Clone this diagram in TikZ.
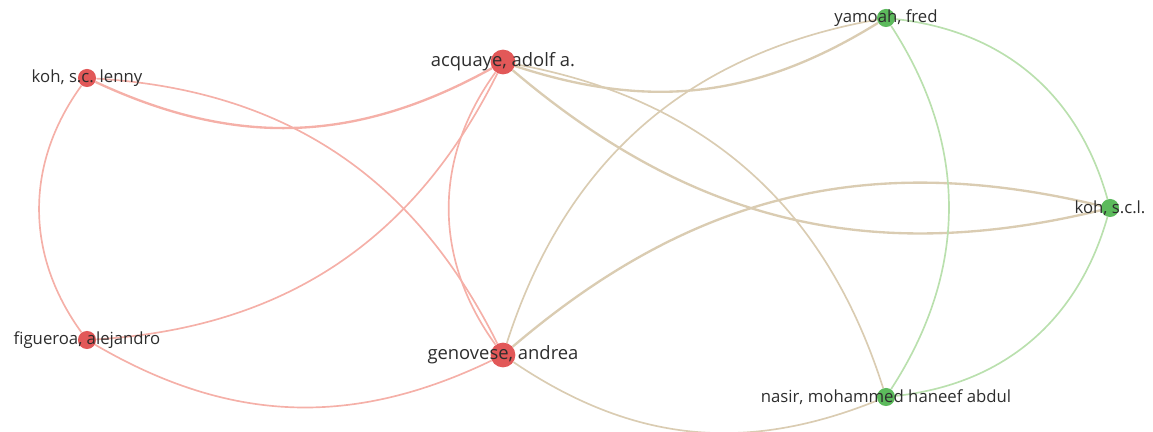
\documentclass[tikz,border=0pt]{standalone}
\usepackage{fontspec}
\setmainfont{Open Sans}
\usetikzlibrary{backgrounds}
\definecolor{vosred}{RGB}{226,88,88}
\definecolor{vosgreen}{RGB}{92,186,92}
\definecolor{linkred}{RGB}{245,176,168}
\definecolor{linkgreen}{RGB}{186,224,174}
\definecolor{linkmix}{RGB}{218,204,178}
\definecolor{lbltext}{RGB}{45,45,45}

\begin{document}
\begin{tikzpicture}[x=0.21mm,y=-0.21mm,
    author/.style={circle,inner sep=0pt,minimum size=3.8mm},
    bigauthor/.style={author,minimum size=5.2mm},
    redauthor/.style={fill=vosred},
    greenauthor/.style={fill=vosgreen},
    lbl/.style={inner sep=0pt,text=lbltext,font=\fontsize{10}{12}\selectfont},
    biglbl/.style={lbl,font=\fontsize{11}{13}\selectfont},
    rlink/.style={draw=linkred,line width=1pt},
    glink/.style={draw=linkgreen,line width=1pt},
    mlink/.style={draw=linkmix,line width=1pt},
    heavy/.style={line width=1.4pt},
  ]

    \useasboundingbox (0,0) rectangle (1153,432);

    % Authors
    \node[author,redauthor]      (lenny)    at (87,78)   {};
    \node[bigauthor,redauthor]   (acquaye)  at (503,62)  {};
    \node[author,redauthor]      (figueroa) at (87,340)  {};
    \node[bigauthor,redauthor]   (genovese) at (503,355) {};
    \node[author,greenauthor]    (yamoah)   at (886,18)  {};
    \node[author,greenauthor]    (kohscl)   at (1110,208) {};
    \node[author,greenauthor]    (nasir)    at (886,397) {};

    % Names
    \node[lbl]    (lenny-t)    at (lenny)    {koh, s.c. lenny};
    \node[biglbl] (acquaye-t)  at (acquaye)  {acquaye, adolf a.};
    \node[lbl]    (figueroa-t) at (figueroa) {figueroa, alejandro};
    \node[biglbl] (genovese-t) at (genovese) {genovese, andrea};
    \node[lbl]    (yamoah-t)   at (yamoah)   {yamoah, fred};
    \node[lbl]    (kohscl-t)   at (kohscl)   {koh, s.c.l.};
    \node[lbl]    (nasir-t)    at (nasir)    {nasir, mohammed haneef abdul};

    % Links
    \begin{scope}[on background layer]
    \draw[rlink,heavy] (lenny) to[bend right=27] (acquaye);
    \draw[rlink] (lenny) to[bend left=30] (genovese);
    \draw[rlink] (lenny) to[bend right=36] (figueroa);
    \draw[rlink] (figueroa) to[bend right=30] (acquaye);
    \draw[rlink] (figueroa) to[bend right=28] (genovese);
    \draw[rlink] (acquaye) to[bend right=36] (genovese);

    \draw[mlink,heavy] (acquaye) to[bend right=25] (yamoah);
    \draw[mlink,heavy] (acquaye) to[bend right=27] (kohscl);
    \draw[mlink] (acquaye) to[bend left=31] (nasir);
    \draw[mlink] (genovese) to[bend left=31] (yamoah);
    \draw[mlink,heavy] (genovese) to[bend left=27] (kohscl);
    \draw[mlink] (genovese) to[bend right=28] (nasir);

    \draw[glink] (yamoah) to[bend left=33] (nasir);
    \draw[glink] (yamoah) to[bend left=34] (kohscl);
    \draw[glink] (nasir) to[bend right=34] (kohscl);
    \end{scope}

  \end{tikzpicture}
\end{document}
